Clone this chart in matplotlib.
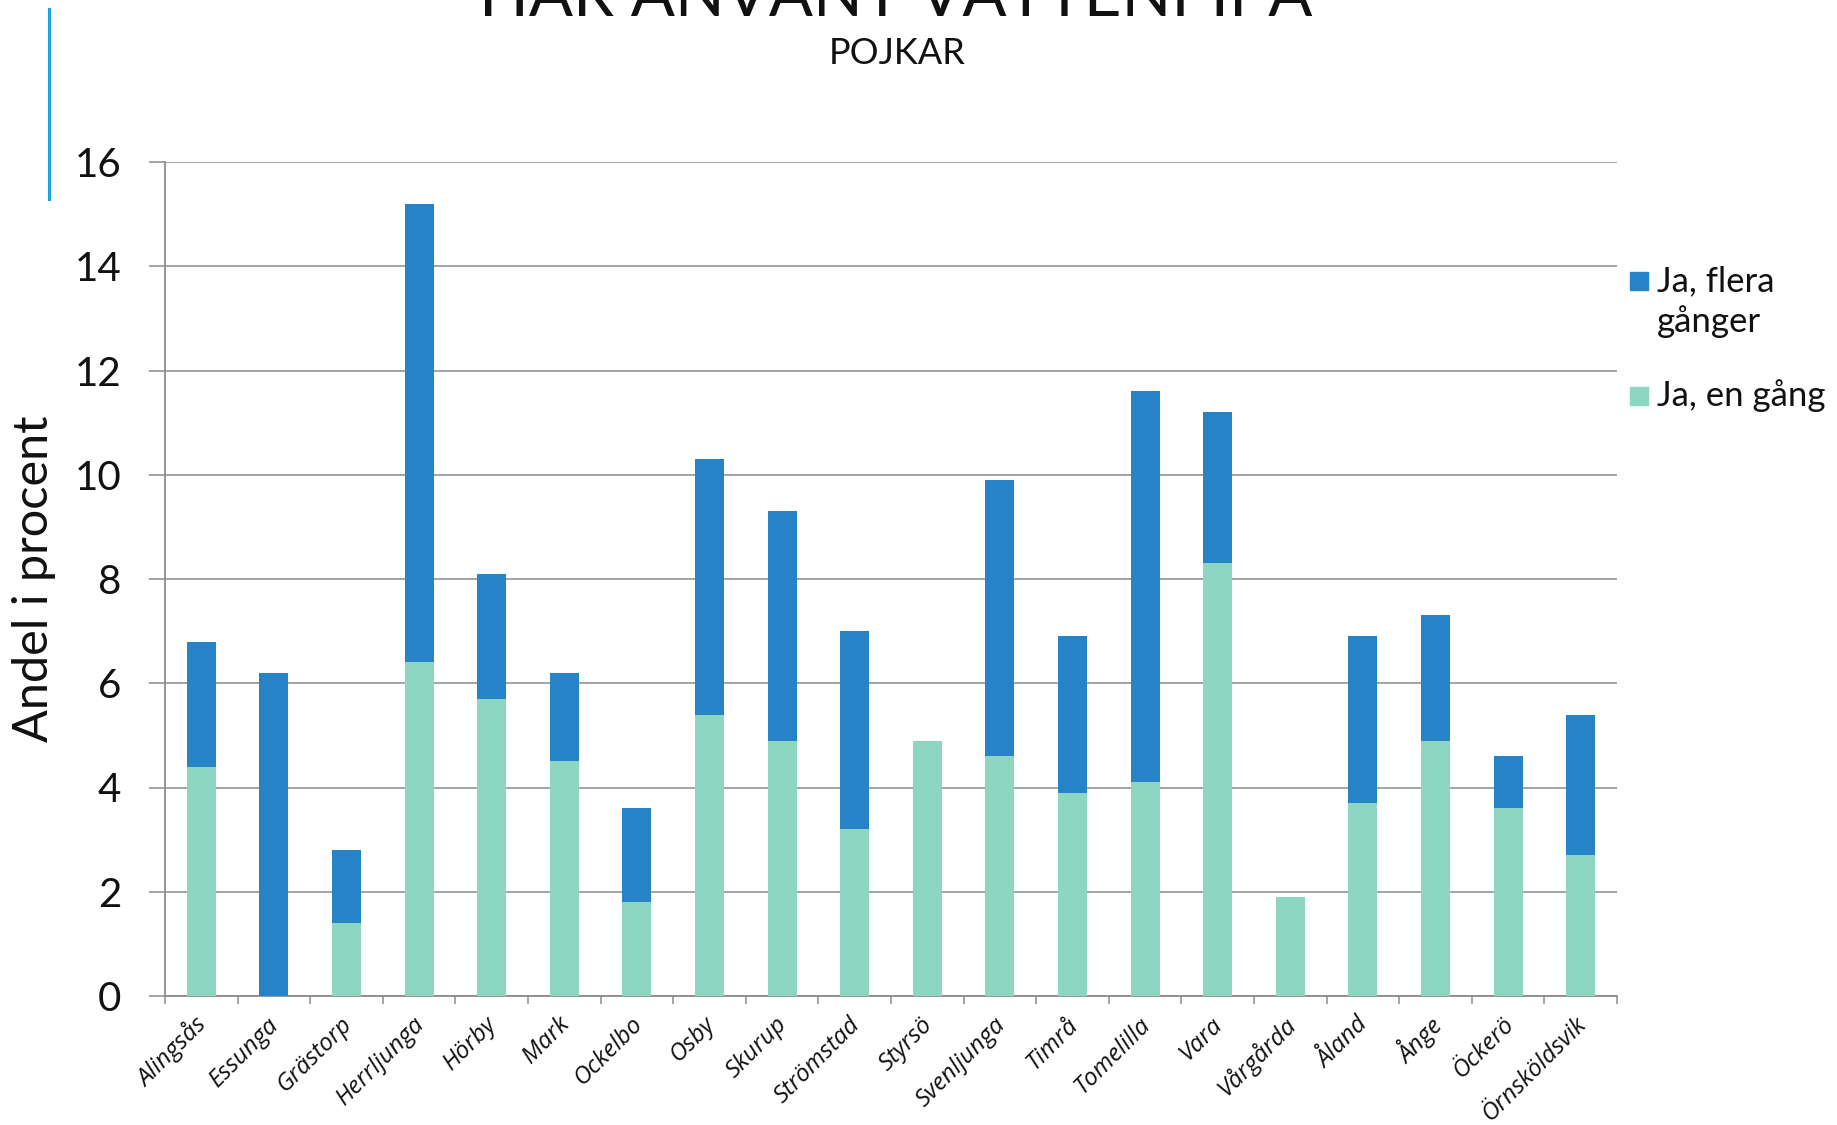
import matplotlib
matplotlib.use("Agg")
import matplotlib.pyplot as plt
from matplotlib.patches import Rectangle
from matplotlib.lines import Line2D
from matplotlib.transforms import ScaledTranslation
import numpy as np

# Kommuner och andel (procent) pojkar som använt vattenpipa
kommuner = ["Alingsås", "Essunga", "Grästorp", "Herrljunga", "Hörby", "Mark",
            "Ockelbo", "Osby", "Skurup", "Strömstad", "Styrsö", "Svenljunga",
            "Timrå", "Tomelilla", "Vara", "Vårgårda", "Åland", "Ånge",
            "Öckerö", "Örnsköldsvik"]
ja_en_gang = [4.4, 0.0, 1.4, 6.4, 5.7, 4.5, 1.8, 5.4, 4.9, 3.2,
              4.9, 4.6, 3.9, 4.1, 8.3, 1.9, 3.7, 4.9, 3.6, 2.7]
ja_flera_ganger = [2.4, 6.2, 1.4, 8.8, 2.4, 1.7, 1.8, 4.9, 4.4, 3.8,
                   0.0, 5.3, 3.0, 7.5, 2.9, 0.0, 3.2, 2.4, 1.0, 2.7]
y_ticks = [0, 2, 4, 6, 8, 10, 12, 14, 16]

color_en = "#8dd6c2"
color_flera = "#2783c8"
grid_gray = "#8c8c8c"
text_col = "#111111"

W, H = 1837, 1125
fig = plt.figure(figsize=(W / 100, H / 100), dpi=100)
ax = fig.add_axes([165 / W, 1 - 996 / H, (1617 - 165) / W, (996 - 162) / H])

x = np.arange(len(kommuner))
ax.bar(x, ja_en_gang, width=0.4, color=color_en, linewidth=0, zorder=3)
ax.bar(x, ja_flera_ganger, width=0.4, bottom=ja_en_gang, color=color_flera,
       linewidth=0, zorder=3)

ax.set_xlim(-0.5, len(kommuner) - 0.5)
ax.set_ylim(0, 16)
ax.set_yticks(y_ticks)
ax.set_yticklabels([str(v) for v in y_ticks], fontsize=29, family="Lato", color=text_col)
ax.yaxis.grid(True, color=grid_gray, linewidth=1.1, zorder=0)
ax.tick_params(axis="y", length=11.5, width=1.1, color=grid_gray, pad=20)

# Kategorigränser som skalstreck, namnen centrerade mellan dem
ax.set_xticks(np.arange(-0.5, len(kommuner)))
ax.set_xticklabels([])
ax.tick_params(axis="x", which="major", length=6, width=1.1, color=grid_gray)
ax.set_xticks(x, minor=True)
ax.set_xticklabels(kommuner, minor=True, rotation=45, ha="right", va="center",
                   rotation_mode="anchor", fontsize=17.5, family="Open Sans",
                   style="italic", color=text_col)
ax.tick_params(axis="x", which="minor", length=0, pad=18)
for lbl in ax.get_xticklabels(minor=True):
    lbl.set_transform(lbl.get_transform() + ScaledTranslation(0.02, 0, fig.dpi_scale_trans))

for side in ["top", "right"]:
    ax.spines[side].set_visible(False)
for side in ["left", "bottom"]:
    ax.spines[side].set_color(grid_gray)
    ax.spines[side].set_linewidth(1.3)

ax.set_ylabel("Andel i procent", fontsize=35, family="Lato", color=text_col)
ax.yaxis.set_label_coords((56 - 165) / (1617 - 165), 0.5)

# Rubrik och underrubrik
fig.text(896 / W, 1 - 16 / H, "HAR ANVÄNT VATTENPIPA", ha="center", va="baseline",
         fontsize=47, family="Lato", color=text_col)
fig.text(897 / W, 1 - 53 / H, "POJKAR", ha="center", va="center",
         fontsize=26, family="Lato", color=text_col)

# Dekorativ vertikal linje
fig.add_artist(Line2D([49 / W, 49 / W], [1 - 9 / H, 1 - 199 / H], color="#1ba1e2",
                      linewidth=2.2))

# Teckenförklaring
sq = 18
for (y_c, col) in [(281, color_flera), (396, color_en)]:
    fig.add_artist(Rectangle((1630 / W, 1 - (y_c + sq / 2) / H), sq / W, sq / H,
                             transform=fig.transFigure, color=col))
leg_kw = dict(ha="left", va="center", fontsize=25, family="Lato", color=text_col)
fig.text(1657 / W, 1 - 281 / H, "Ja, flera", **leg_kw)
fig.text(1657 / W, 1 - 322 / H, "gånger", **leg_kw)
fig.text(1657 / W, 1 - 396 / H, "Ja, en gång", **leg_kw)

fig.savefig("out.png", dpi=100)
